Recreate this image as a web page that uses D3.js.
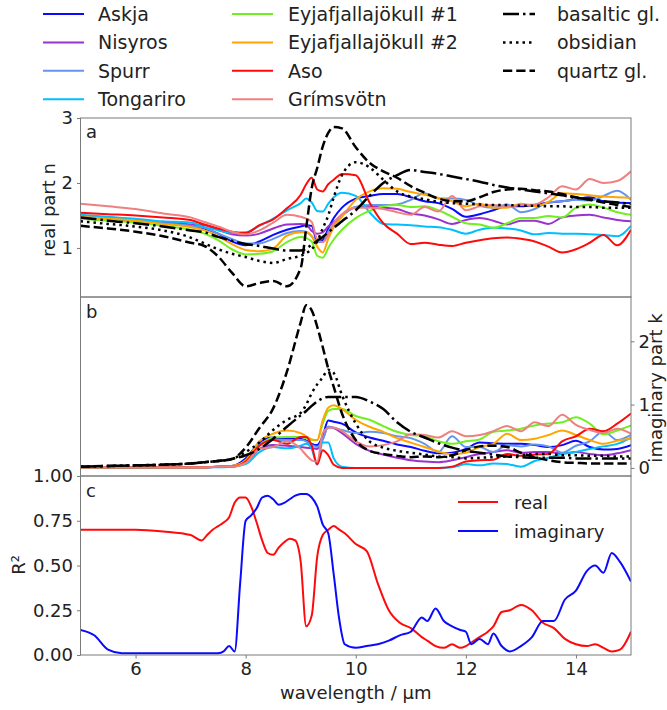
<!DOCTYPE html>
<html>
<head>
<meta charset="utf-8">
<script src="https://cdn.jsdelivr.net/npm/d3@7/dist/d3.min.js"></script>
<style>
  body { margin: 0; background: #fff; }
  svg { font-family: 'DejaVu Sans', sans-serif; }
</style>
</head>
<body>
<div id="graf"></div>
<script>
// I. Datos
const longitudes = [5, 5.5, 6, 6.5, 7, 7.25, 7.5, 7.75, 8, 8.25, 8.5, 8.75, 9, 9.1, 9.2, 9.3, 9.4, 9.5, 9.6, 9.75, 10,
  10.25, 10.5, 10.75, 11, 11.25, 11.5, 11.75, 12, 12.25, 12.5, 12.75, 13, 13.25, 13.5, 13.75, 14, 14.25, 14.5, 14.75, 15]

// parte real n
const nAskja = [1.49, 1.46, 1.43, 1.39, 1.35, 1.30, 1.22, 1.10, 1.04, 1.10, 1.20, 1.28, 1.33, 1.35, 1.34, 1.10, 1.12, 1.30, 1.46, 1.62, 1.76,
  1.80, 1.83, 1.83, 1.78, 1.72, 1.69, 1.60, 1.48, 1.52, 1.58, 1.64, 1.64, 1.66, 1.70, 1.72, 1.75, 1.78, 1.72, 1.70, 1.69]
const nNisyros = [1.48, 1.45, 1.42, 1.39, 1.36, 1.35, 1.28, 1.21, 1.19, 1.22, 1.30, 1.36, 1.37, 1.36, 1.26, 1.22, 1.24, 1.33, 1.40, 1.50, 1.63,
  1.64, 1.62, 1.60, 1.53, 1.50, 1.44, 1.37, 1.43, 1.46, 1.42, 1.36, 1.42, 1.42, 1.37, 1.47, 1.50, 1.51, 1.47, 1.43, 1.41]
const nSpurr = [1.49, 1.46, 1.43, 1.38, 1.34, 1.31, 1.22, 1.14, 1.07, 1.07, 1.14, 1.23, 1.26, 1.25, 1.18, 1.10, 1.09, 1.25, 1.37, 1.50, 1.63,
  1.66, 1.66, 1.67, 1.74, 1.84, 1.76, 1.76, 1.74, 1.65, 1.62, 1.67, 1.55, 1.60, 1.70, 1.72, 1.74, 1.73, 1.80, 1.88, 1.74]
const nTongariro = [1.51, 1.48, 1.45, 1.41, 1.39, 1.32, 1.27, 1.23, 1.24, 1.34, 1.45, 1.58, 1.69, 1.76, 1.70, 1.57, 1.56, 1.68, 1.78, 1.85, 1.80,
  1.55, 1.37, 1.36, 1.35, 1.33, 1.32, 1.28, 1.22, 1.28, 1.31, 1.30, 1.27, 1.21, 1.23, 1.22, 1.22, 1.21, 1.20, 1.18, 1.34]
const nEyja1 = [1.45, 1.42, 1.39, 1.34, 1.28, 1.22, 1.12, 0.98, 0.90, 0.91, 0.95, 1.09, 1.17, 1.15, 1.10, 0.88, 0.85, 1.00, 1.13, 1.28, 1.46,
  1.57, 1.64, 1.66, 1.63, 1.64, 1.58, 1.48, 1.38, 1.36, 1.31, 1.38, 1.46, 1.46, 1.49, 1.47, 1.62, 1.67, 1.62, 1.55, 1.51]
const nEyja2 = [1.48, 1.45, 1.42, 1.37, 1.32, 1.27, 1.18, 1.06, 0.97, 0.95, 0.99, 1.19, 1.24, 1.24, 1.18, 1.02, 0.93, 1.14, 1.32, 1.48, 1.74,
  1.87, 1.92, 1.91, 1.86, 1.82, 1.77, 1.72, 1.64, 1.68, 1.62, 1.62, 1.68, 1.64, 1.71, 1.84, 1.83, 1.81, 1.79, 1.78, 1.77]
const nAso = [1.54, 1.52, 1.50, 1.47, 1.43, 1.36, 1.30, 1.25, 1.23, 1.35, 1.44, 1.61, 1.82, 1.98, 2.08, 1.90, 1.87, 1.98, 2.05, 2.14, 2.12,
  1.70, 1.38, 1.22, 1.06, 1.08, 1.05, 1.03, 1.08, 1.12, 1.15, 1.16, 1.14, 1.10, 1.02, 0.93, 0.98, 1.08, 1.20, 1.04, 1.28]
const nGrimsvotn = [1.68, 1.64, 1.60, 1.53, 1.47, 1.40, 1.33, 1.25, 1.21, 1.27, 1.39, 1.51, 1.48, 1.45, 1.40, 1.13, 1.09, 1.20, 1.38, 1.52, 1.62,
  1.62, 1.60, 1.55, 1.51, 1.63, 1.56, 1.80, 1.58, 1.64, 1.66, 1.64, 1.66, 1.67, 1.78, 1.95, 1.90, 2.06, 2.00, 2.03, 2.18]
const nBasaltico = [1.47, 1.42, 1.38, 1.33, 1.27, 1.24, 1.17, 1.11, 1.06, 1.03, 0.99, 0.96, 0.96, 0.99, 1.05, 1.11, 1.17, 1.24, 1.31, 1.41, 1.58,
  1.80, 2.00, 2.12, 2.20, 2.17, 2.14, 2.10, 2.06, 2.02, 1.97, 1.93, 1.90, 1.87, 1.84, 1.81, 1.77, 1.75, 1.72, 1.70, 1.68]
const nObsidiana = [1.41, 1.37, 1.33, 1.27, 1.16, 1.07, 0.98, 0.91, 0.86, 0.80, 0.77, 0.83, 0.88, 0.92, 0.98, 1.10, 1.30, 1.50, 1.78, 2.12, 2.32,
  2.24, 2.05, 1.87, 1.79, 1.75, 1.71, 1.69, 1.68, 1.67, 1.66, 1.66, 1.65, 1.65, 1.64, 1.64, 1.63, 1.63, 1.62, 1.62, 1.62]
const nCuarzo = [1.34, 1.30, 1.25, 1.18, 1.08, 1.03, 0.87, 0.62, 0.41, 0.46, 0.49, 0.41, 0.69, 1.31, 1.92, 2.23, 2.56, 2.77, 2.86, 2.84, 2.55,
  2.31, 2.18, 2.08, 1.95, 1.85, 1.76, 1.72, 1.72, 1.78, 1.86, 1.90, 1.91, 1.89, 1.87, 1.83, 1.78, 1.74, 1.70, 1.66, 1.63]

// parte imaginaria k
const kAskja = [0.01, 0.01, 0.01, 0.01, 0.01, 0.01, 0.02, 0.03, 0.15, 0.40, 0.48, 0.46, 0.46, 0.43, 0.38, 0.36, 0.50, 0.75, 0.73, 0.70, 0.56,
  0.48, 0.43, 0.37, 0.33, 0.27, 0.23, 0.24, 0.30, 0.40, 0.39, 0.38, 0.38, 0.36, 0.33, 0.36, 0.43, 0.33, 0.29, 0.30, 0.36]
const kNisyros = [0.01, 0.01, 0.01, 0.01, 0.01, 0.01, 0.02, 0.03, 0.08, 0.30, 0.36, 0.35, 0.33, 0.32, 0.31, 0.30, 0.45, 0.65, 0.63, 0.55, 0.38,
  0.27, 0.21, 0.16, 0.12, 0.10, 0.09, 0.12, 0.17, 0.22, 0.25, 0.28, 0.24, 0.25, 0.25, 0.23, 0.25, 0.22, 0.20, 0.23, 0.28]
const kSpurr = [0.01, 0.01, 0.01, 0.01, 0.01, 0.01, 0.02, 0.03, 0.10, 0.37, 0.44, 0.44, 0.44, 0.42, 0.36, 0.33, 0.45, 0.65, 0.63, 0.60, 0.55,
  0.57, 0.55, 0.50, 0.47, 0.38, 0.25, 0.50, 0.33, 0.33, 0.25, 0.36, 0.34, 0.37, 0.34, 0.24, 0.35, 0.42, 0.58, 0.44, 0.52]
const kTongariro = [0.01, 0.01, 0.01, 0.01, 0.01, 0.01, 0.01, 0.02, 0.06, 0.25, 0.33, 0.31, 0.35, 0.38, 0.30, 0.05, 0.40, 0.40, 0.15, 0.02, 0.00,
  0.00, 0.00, 0.00, 0.00, 0.00, 0.00, 0.01, 0.06, 0.04, 0.07, 0.06, 0.02, 0.11, 0.16, 0.22, 0.25, 0.30, 0.34, 0.38, 0.48]
const kEyja1 = [0.01, 0.01, 0.01, 0.01, 0.01, 0.01, 0.02, 0.02, 0.08, 0.35, 0.48, 0.49, 0.49, 0.47, 0.44, 0.44, 0.70, 0.90, 0.93, 0.93, 0.82,
  0.76, 0.66, 0.57, 0.52, 0.50, 0.42, 0.38, 0.42, 0.45, 0.57, 0.59, 0.62, 0.67, 0.70, 0.72, 0.80, 0.70, 0.53, 0.59, 0.67]
const kEyja2 = [0.01, 0.01, 0.01, 0.01, 0.01, 0.01, 0.02, 0.03, 0.12, 0.42, 0.54, 0.59, 0.55, 0.50, 0.45, 0.44, 0.75, 0.95, 0.99, 0.93, 0.76,
  0.65, 0.57, 0.47, 0.40, 0.33, 0.26, 0.22, 0.24, 0.33, 0.38, 0.54, 0.44, 0.46, 0.52, 0.59, 0.52, 0.44, 0.38, 0.43, 0.46]
const kAso = [0.01, 0.01, 0.01, 0.01, 0.01, 0.01, 0.02, 0.02, 0.10, 0.35, 0.44, 0.38, 0.49, 0.49, 0.35, 0.06, 0.28, 0.20, 0.05, 0.00, 0.00,
  0.00, 0.00, 0.00, 0.00, 0.00, 0.00, 0.02, 0.10, 0.12, 0.13, 0.22, 0.19, 0.21, 0.22, 0.42, 0.50, 0.62, 0.58, 0.70, 0.86]
const kGrimsvotn = [0.01, 0.01, 0.01, 0.01, 0.01, 0.01, 0.02, 0.02, 0.08, 0.30, 0.33, 0.42, 0.30, 0.20, 0.12, 0.10, 0.55, 0.63, 0.64, 0.58, 0.42,
  0.34, 0.36, 0.42, 0.53, 0.52, 0.48, 0.58, 0.50, 0.52, 0.58, 0.66, 0.58, 0.72, 0.66, 0.84, 0.68, 0.60, 0.55, 0.62, 0.54]
const kBasaltico = [0.02, 0.03, 0.04, 0.05, 0.07, 0.09, 0.11, 0.14, 0.20, 0.30, 0.46, 0.65, 0.83, 0.90, 0.98, 1.05, 1.10, 1.12, 1.12, 1.12, 1.12,
  1.05, 0.93, 0.72, 0.57, 0.48, 0.39, 0.32, 0.27, 0.24, 0.21, 0.18, 0.17, 0.16, 0.16, 0.16, 0.15, 0.15, 0.15, 0.15, 0.15]
const kObsidiana = [0.02, 0.03, 0.04, 0.05, 0.07, 0.09, 0.11, 0.14, 0.25, 0.40, 0.60, 0.76, 0.87, 1.00, 1.18, 1.32, 1.43, 1.55, 1.50, 1.15, 0.70,
  0.42, 0.32, 0.27, 0.24, 0.21, 0.18, 0.17, 0.15, 0.16, 0.17, 0.18, 0.20, 0.22, 0.22, 0.20, 0.20, 0.19, 0.19, 0.18, 0.18]
const kCuarzo = [0.02, 0.03, 0.04, 0.05, 0.07, 0.09, 0.11, 0.14, 0.32, 0.63, 0.94, 1.52, 2.30, 2.57, 2.49, 2.23, 1.91, 1.57, 1.28, 0.86, 0.44,
  0.27, 0.22, 0.19, 0.17, 0.18, 0.17, 0.20, 0.28, 0.34, 0.35, 0.33, 0.24, 0.17, 0.12, 0.09, 0.08, 0.07, 0.07, 0.07, 0.07]

// R² del ajuste
const longitudesR2 = [5, 5.25, 5.5, 5.75, 6, 6.5, 7, 7.2, 7.3, 7.4, 7.5, 7.6, 7.7, 7.8, 7.9, 8, 8.1, 8.2, 8.3, 8.4, 8.5, 8.6, 8.7, 8.8, 8.9,
  9, 9.1, 9.2, 9.3, 9.4, 9.5, 9.6, 9.7, 9.8, 10, 10.2, 10.4, 10.6, 10.8, 11, 11.2, 11.3, 11.45, 11.6, 11.75, 11.9,
  12, 12.1, 12.25, 12.4, 12.5, 12.65, 12.8, 13, 13.2, 13.4, 13.6, 13.8, 14, 14.2, 14.35, 14.5, 14.65, 14.8, 15]
const r2Real = [0.70, 0.70, 0.70, 0.70, 0.70, 0.69, 0.67, 0.64, 0.67, 0.70, 0.72, 0.74, 0.77, 0.85, 0.88, 0.88, 0.83, 0.74, 0.64, 0.57, 0.56, 0.60, 0.63, 0.65, 0.64,
  0.52, 0.16, 0.22, 0.55, 0.67, 0.70, 0.72, 0.70, 0.68, 0.62, 0.58, 0.40, 0.25, 0.18, 0.15, 0.10, 0.08, 0.05, 0.04, 0.06, 0.04,
  0.05, 0.07, 0.10, 0.13, 0.16, 0.24, 0.25, 0.28, 0.25, 0.18, 0.15, 0.09, 0.06, 0.05, 0.06, 0.04, 0.02, 0.03, 0.13]
const r2Imag = [0.14, 0.11, 0.03, 0.01, 0.01, 0.01, 0.01, 0.01, 0.01, 0.01, 0.01, 0.02, 0.05, 0.02, 0.40, 0.75, 0.78, 0.82, 0.88, 0.89, 0.87, 0.84, 0.85, 0.87, 0.89,
  0.90, 0.90, 0.88, 0.83, 0.73, 0.68, 0.45, 0.20, 0.06, 0.04, 0.05, 0.06, 0.08, 0.11, 0.13, 0.21, 0.19, 0.26, 0.19, 0.16, 0.14,
  0.13, 0.06, 0.09, 0.06, 0.12, 0.05, 0.02, 0.05, 0.10, 0.19, 0.19, 0.31, 0.36, 0.47, 0.50, 0.46, 0.57, 0.52, 0.41]

const volcanes = ['Askja', 'Nisyros', 'Spurr', 'Tongariro', 'Eyjafjallajökull #1', 'Eyjafjallajökull #2', 'Aso', 'Grímsvötn']
const vidrios = ['basaltic gl.', 'obsidian', 'quartz gl.']

const ticksN = [1, 2, 3]
const ticksK = [0, 1, 2]
const ticksR2 = [0, 0.25, 0.5, 0.75, 1]
const ticksX = [6, 8, 10, 12, 14]

// II. Configuración
const colores = ['#0a0aff', '#9a32cd', '#6495ed', '#00bfff', '#70f020', '#ffa500', '#ff0a0a', '#f08080']
const guiones = ['16,4,2.5,4', '2.5,4', '9.25,4']
const gris = '#7a7a7a'

ancho_total = 667
alto_total = 710

izq = 80.5
der = 631
panelA = [118, 297]
panelB = [297, 476]
panelC = [476, 655]

svg = d3.select('#graf')
  .append('svg')
    .attr('width', ancho_total)
    .attr('height', alto_total)

x = d3.scaleLinear().domain([5, 15]).range([izq, der])
yN = d3.scaleLinear().domain([0.245, 3.0]).range([panelA[1], panelA[0]])
yK = d3.scaleLinear().domain([-0.128, 2.7]).range([panelB[1], panelB[0]])
yR = d3.scaleLinear().domain([0, 1]).range([panelC[1], panelC[0]])

series = volcanes.map((v, i) => ({
  nombre: v,
  color: colores[i],
  n: [nAskja, nNisyros, nSpurr, nTongariro, nEyja1, nEyja2, nAso, nGrimsvotn][i],
  k: [kAskja, kNisyros, kSpurr, kTongariro, kEyja1, kEyja2, kAso, kGrimsvotn][i]
}))
referencias = vidrios.map((v, i) => ({
  nombre: v,
  guion: guiones[i],
  n: [nBasaltico, nObsidiana, nCuarzo][i],
  k: [kBasaltico, kObsidiana, kCuarzo][i]
}))

// III. Paneles
function panel(id, rango) {
  svg.append('clipPath')
      .attr('id', id)
    .append('rect')
      .attr('x', izq)
      .attr('y', rango[0])
      .attr('width', der - izq)
      .attr('height', rango[1] - rango[0])
  return svg.append('g').attr('clip-path', `url(#${id})`)
}

function linea(y) {
  return d3.line()
    .x(d => x(d[0]))
    .y(d => y(d[1]))
    .curve(d3.curveMonotoneX)
}

function dibuja(g, y, campo) {
  g.selectAll('path.volcan')
    .data(series)
    .enter()
    .append('path')
      .attr('class', 'volcan')
      .attr('fill', 'none')
      .attr('stroke', d => d.color)
      .attr('stroke-width', 2)
      .attr('stroke-linejoin', 'round')
      .attr('d', d => linea(y)(longitudes.map((w, i) => [w, d[campo][i]])))

  g.selectAll('path.vidrio')
    .data(referencias)
    .enter()
    .append('path')
      .attr('class', 'vidrio')
      .attr('fill', 'none')
      .attr('stroke', '#000')
      .attr('stroke-width', 2.5)
      .attr('stroke-dasharray', d => d.guion)
      .attr('d', d => linea(y)(longitudes.map((w, i) => [w, d[campo][i]])))
}

gA = panel('clipA', panelA)
dibuja(gA, yN, 'n')
gB = panel('clipB', panelB)
dibuja(gB, yK, 'k')

gC = panel('clipC', panelC)
gC.append('path')
    .attr('fill', 'none')
    .attr('stroke', '#ff0a0a')
    .attr('stroke-width', 2)
    .attr('d', linea(yR)(longitudesR2.map((w, i) => [w, r2Real[i]])))
gC.append('path')
    .attr('fill', 'none')
    .attr('stroke', '#0a0aff')
    .attr('stroke-width', 2)
    .attr('d', linea(yR)(longitudesR2.map((w, i) => [w, r2Imag[i]])))

// marcos
;[panelA, panelB, panelC].forEach(r => {
  svg.append('rect')
      .attr('x', izq)
      .attr('y', r[0])
      .attr('width', der - izq)
      .attr('height', r[1] - r[0])
      .attr('fill', 'none')
      .attr('stroke', gris)
      .attr('stroke-width', 1)
})

// IV. Ejes
function eje(gen, tx, ty) {
  const g = svg.append('g')
      .attr('transform', `translate(${tx}, ${ty})`)
      .call(gen.tickSizeOuter(0).tickSize(3.5).tickPadding(4))
      .attr('font-size', 18)
      .attr('font-family', 'DejaVu Sans, sans-serif')
  g.select('.domain').remove()
  g.selectAll('.tick line').attr('stroke', gris)
  g.selectAll('.tick text').attr('fill', '#222')
  return g
}

eje(d3.axisLeft(yN).tickValues(ticksN).tickFormat(d3.format('d')), izq, 0)
eje(d3.axisRight(yK).tickValues(ticksK).tickFormat(d3.format('d')), der, 0)
eje(d3.axisLeft(yR).tickValues(ticksR2).tickFormat(d3.format('.2f')), izq, 0)
eje(d3.axisBottom(x).tickValues(ticksX).tickFormat(d3.format('d')), 0, panelC[1])

textos = svg.append('g')
  .attr('font-size', 18)
  .attr('fill', '#222')

textos.append('text')
    .attr('transform', 'translate(55, 210) rotate(-90)')
    .attr('text-anchor', 'middle')
    .text('real part n')
textos.append('text')
    .attr('transform', 'translate(662, 388) rotate(-90)')
    .attr('text-anchor', 'middle')
    .text('imaginary part k')
textos.append('text')
    .attr('transform', 'translate(25, 565) rotate(-90)')
    .attr('text-anchor', 'middle')
    .text('R²')
textos.append('text')
    .attr('x', (izq + der) / 2)
    .attr('y', 699)
    .attr('text-anchor', 'middle')
    .text('wavelength / μm')

textos.selectAll('text.letra')
  .data([['a', panelA[0] + 20], ['b', panelB[0] + 21], ['c', panelC[0] + 21]])
  .enter()
  .append('text')
    .attr('class', 'letra')
    .attr('x', 86)
    .attr('y', d => d[1])
    .text(d => d[0])

// V. Leyendas
leyenda = svg.append('g')
  .attr('font-size', 19)
  .attr('fill', '#222')

filaY = i => 14 + (i % 4) * 28.4

items = series.map((s, i) => ({ nombre: s.nombre, color: s.color, guion: null, x0: i < 4 ? 43 : 232, x1: i < 4 ? 84 : 273, tx: i < 4 ? 98 : 288, fila: i % 4 }))
  .concat(referencias.map((r, i) => ({ nombre: r.nombre, color: '#000', guion: r.guion, x0: 503, x1: 535, tx: 557, fila: i })))

entradas = leyenda.selectAll('g.item')
  .data(items)
  .enter()
  .append('g')
    .attr('class', 'item')

entradas.append('line')
    .attr('x1', d => d.x0)
    .attr('x2', d => d.x1)
    .attr('y1', d => filaY(d.fila))
    .attr('y2', d => filaY(d.fila))
    .attr('stroke', d => d.color)
    .attr('stroke-width', d => d.guion ? 2.5 : 2)
    .attr('stroke-dasharray', d => d.guion)
entradas.append('text')
    .attr('x', d => d.tx)
    .attr('y', d => filaY(d.fila) + 7)
    .text(d => d.nombre)

leyendaR2 = svg.append('g')
  .attr('font-size', 18)
  .attr('fill', '#222')
;[['real', '#ff0a0a', 502], ['imaginary', '#0a0aff', 531]].forEach(d => {
  leyendaR2.append('line')
      .attr('x1', 458).attr('x2', 498)
      .attr('y1', d[2]).attr('y2', d[2])
      .attr('stroke', d[1])
      .attr('stroke-width', 2)
  leyendaR2.append('text')
      .attr('x', 514)
      .attr('y', d[2] + 7)
      .text(d[0])
})
</script>
</body>
</html>
